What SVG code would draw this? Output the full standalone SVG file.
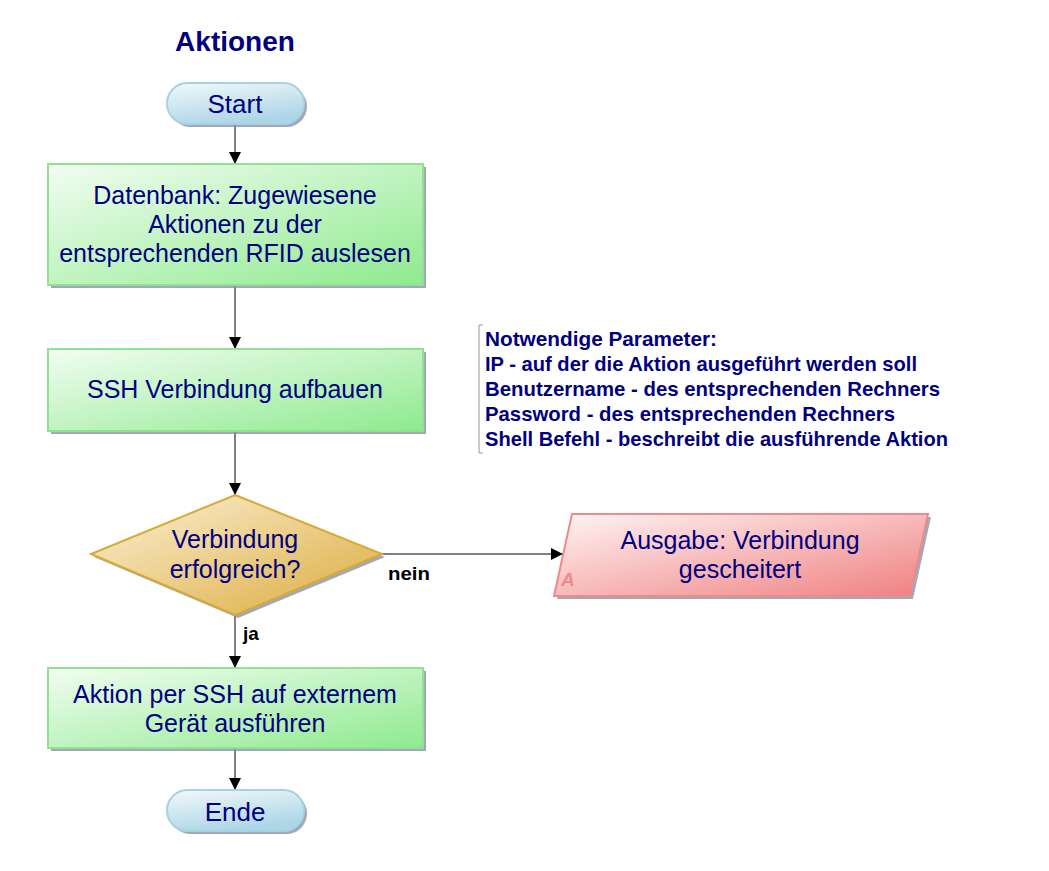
<svg xmlns="http://www.w3.org/2000/svg" width="1049" height="871" viewBox="0 0 1049 871">
<style>
.t{font-family:"Liberation Sans",Arial,sans-serif;fill:#000080;text-anchor:middle}
.n{font-size:25px}
.term{font-size:26px}
.ann{font-family:"Liberation Sans",Arial,sans-serif;font-weight:bold;font-size:21px;fill:#000080}
.lbl{font-family:"Liberation Sans",Arial,sans-serif;font-weight:bold;font-size:19px;fill:#000}
.c{stroke:#000;stroke-width:1;fill:none}
.sh{fill:#8a92a8;opacity:0.8}
</style>
<defs>
<linearGradient id="gG" x1="0" y1="0" x2="1" y2="1"><stop offset="0" stop-color="#f2fdf2"/><stop offset="1" stop-color="#8eea8e"/></linearGradient>
<linearGradient id="gB" x1="0" y1="0" x2="0.4" y2="1"><stop offset="0" stop-color="#f2f9fc"/><stop offset="1" stop-color="#aed6e6"/></linearGradient>
<linearGradient id="gY" x1="0" y1="0" x2="1" y2="1"><stop offset="0" stop-color="#fbf1d6"/><stop offset="1" stop-color="#dcab3c"/></linearGradient>
<linearGradient id="gR" x1="0" y1="0" x2="1" y2="1"><stop offset="0" stop-color="#fff4f4"/><stop offset="1" stop-color="#ef8080"/></linearGradient>
<marker id="ar" markerWidth="12" markerHeight="12" refX="12" refY="6" orient="auto" markerUnits="userSpaceOnUse"><path d="M0,0 L12,6 L0,12 Z" fill="#000"/></marker>
</defs>
<rect width="1049" height="871" fill="#fff"/>
<text x="235" y="51" style="font-family:'Liberation Sans',Arial,sans-serif;font-weight:bold;font-size:28px;fill:#000080;text-anchor:middle">Aktionen</text>

<g id="connectors">
<line class="c" x1="235" y1="124" x2="235" y2="164" marker-end="url(#ar)"/>
<line class="c" x1="235" y1="286" x2="235" y2="349" marker-end="url(#ar)"/>
<line class="c" x1="235" y1="432" x2="235" y2="495" marker-end="url(#ar)"/>
<line class="c" x1="382" y1="554" x2="563" y2="554" marker-end="url(#ar)"/>
<line class="c" x1="235" y1="615" x2="235" y2="668" marker-end="url(#ar)"/>
<line class="c" x1="235" y1="749" x2="235" y2="790" marker-end="url(#ar)"/>
<text class="lbl" x="388" y="580" textLength="42" lengthAdjust="spacingAndGlyphs">nein</text>
<text class="lbl" x="243" y="640">ja</text>
</g>

<g id="start">
<rect class="sh" x="170" y="86" width="137" height="41" rx="20.5"/>
<rect x="167" y="83" width="137" height="41" rx="20.5" fill="url(#gB)" stroke="#a6d2e2" stroke-width="2"/>
<text class="t term" x="235" y="113">Start</text>
</g>

<g id="db">
<rect class="sh" x="51" y="167" width="375" height="121"/>
<rect x="48" y="164" width="375" height="121" fill="url(#gG)" stroke="#90e290" stroke-width="2"/>
<text class="t n" x="235" y="204">Datenbank: Zugewiesene</text>
<text class="t n" x="235" y="233">Aktionen zu der</text>
<text class="t n" x="235" y="262">entsprechenden RFID auslesen</text>
</g>

<g id="ssh">
<rect class="sh" x="51" y="352" width="375" height="82"/>
<rect x="48" y="349" width="375" height="82" fill="url(#gG)" stroke="#90e290" stroke-width="2"/>
<text class="t n" x="235" y="398">SSH Verbindung aufbauen</text>
</g>

<g id="note">
<path d="M483,325 H479 V453 H483" fill="none" stroke="#999" stroke-width="1"/>
<text class="ann" x="485" y="346" textLength="232" lengthAdjust="spacingAndGlyphs">Notwendige Parameter:</text>
<text class="ann" x="485" y="371" textLength="432" lengthAdjust="spacingAndGlyphs">IP - auf der die Aktion ausgeführt werden soll</text>
<text class="ann" x="485" y="396" textLength="455" lengthAdjust="spacingAndGlyphs">Benutzername - des entsprechenden Rechners</text>
<text class="ann" x="485" y="421" textLength="410" lengthAdjust="spacingAndGlyphs">Password - des entsprechenden Rechners</text>
<text class="ann" x="485" y="446" textLength="463" lengthAdjust="spacingAndGlyphs">Shell Befehl - beschreibt die ausführende Aktion</text>
</g>

<g id="decision">
<polygon class="sh" points="238,498 385,557 238,618 94,557"/>
<polygon points="235,495 382,554 235,615 91,554" fill="url(#gY)" stroke="#d8aa34" stroke-width="2"/>
<text class="t n" x="235" y="548">Verbindung</text>
<text class="t n" x="235" y="578">erfolgreich?</text>
</g>

<g id="fail">
<polygon class="sh" points="575,517 931,517 913,599 557,599"/>
<polygon points="572,514 928,514 910,596 554,596" fill="url(#gR)" stroke="#f08a8a" stroke-width="2"/>
<text class="t n" x="740" y="549">Ausgabe: Verbindung</text>
<text class="t n" x="740" y="578">gescheitert</text>
<text x="561" y="586" style="font-family:'Liberation Sans',Arial,sans-serif;font-weight:bold;font-style:italic;font-size:19px;fill:#f08a8a">A</text>
</g>

<g id="action">
<rect class="sh" x="51" y="671" width="375" height="80"/>
<rect x="48" y="668" width="375" height="80" fill="url(#gG)" stroke="#90e290" stroke-width="2"/>
<text class="t n" x="235" y="703">Aktion per SSH auf externem</text>
<text class="t n" x="235" y="732">Gerät ausführen</text>
</g>

<g id="end">
<rect class="sh" x="170" y="793" width="137" height="41" rx="20.5"/>
<rect x="167" y="790" width="137" height="41" rx="20.5" fill="url(#gB)" stroke="#a6d2e2" stroke-width="2"/>
<text class="t term" x="235" y="821">Ende</text>
</g>
</svg>
